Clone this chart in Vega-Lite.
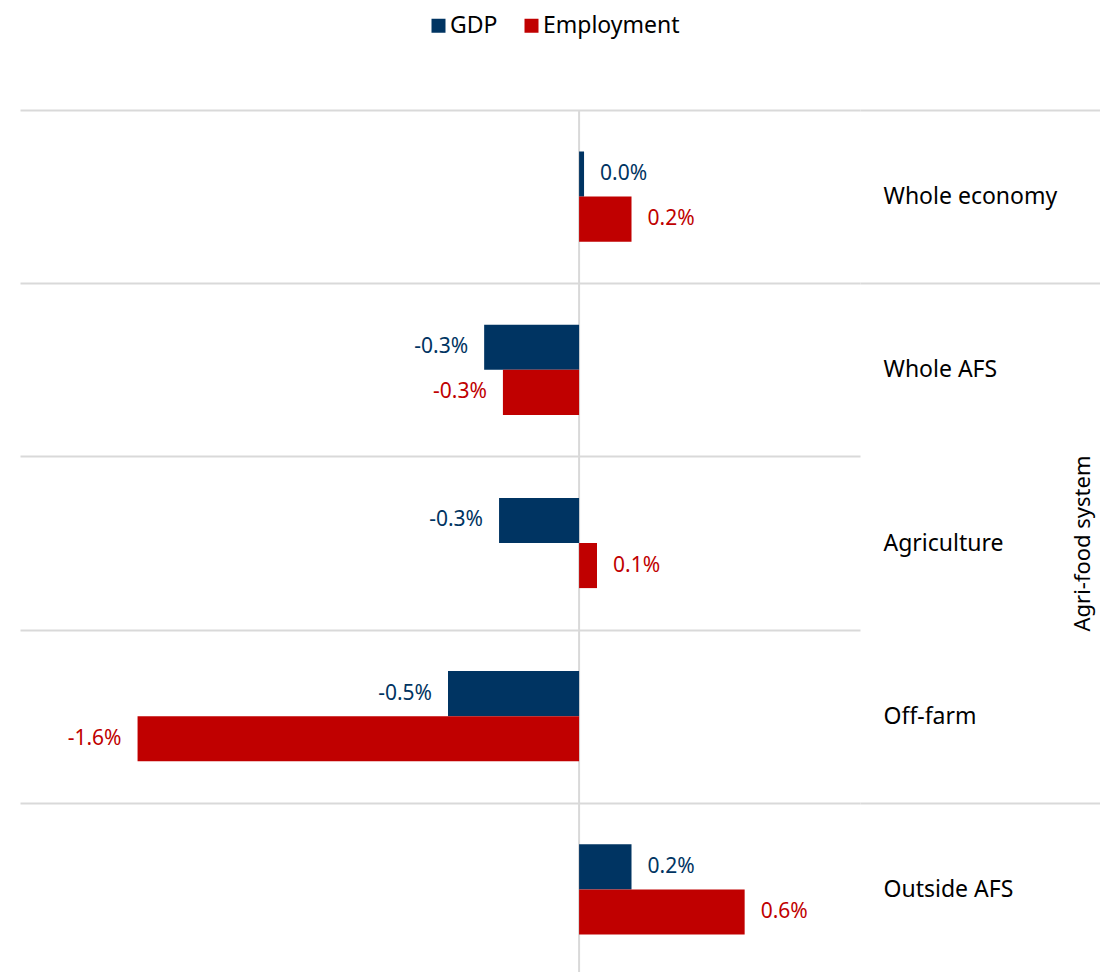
{
  "$schema": "https://vega.github.io/schema/vega-lite/v6.json",
  "width": 840,
  "height": 866,
  "autosize": {"type": "none"},
  "padding": {"left": 20, "top": 110, "right": 240, "bottom": 0},
  "background": "white",
  "config": {
    "view": {"stroke": null},
    "font": "Noto Sans",
    "locale": {"number": {"decimal": ".", "thousands": ",", "grouping": [3], "currency": ["$", ""], "minus": "-"}}
  },
  "data": {
    "values": [
      {"category": "Whole economy", "series": "GDP", "value": 0.00018},
      {"category": "Whole economy", "series": "Employment", "value": 0.0019},
      {"category": "Whole AFS", "series": "GDP", "value": -0.00344},
      {"category": "Whole AFS", "series": "Employment", "value": -0.00276},
      {"category": "Agriculture", "series": "GDP", "value": -0.0029},
      {"category": "Agriculture", "series": "Employment", "value": 0.00065},
      {"category": "Off-farm", "series": "GDP", "value": -0.00475},
      {"category": "Off-farm", "series": "Employment", "value": -0.016},
      {"category": "Outside AFS", "series": "GDP", "value": 0.0019},
      {"category": "Outside AFS", "series": "Employment", "value": 0.006}
    ]
  },
  "encoding": {
    "y": {
      "field": "category",
      "type": "nominal",
      "sort": ["Whole economy", "Whole AFS", "Agriculture", "Off-farm", "Outside AFS"],
      "scale": {"paddingInner": 0, "paddingOuter": 0},
      "axis": {
        "orient": "right",
        "title": "Agri-food system",
        "titleAngle": 270,
        "titleX": 222,
        "titleY": 433,
        "titleAlign": "center",
        "titleBaseline": "middle",
        "titleFontSize": 22,
        "titleFontWeight": "normal",
        "titleColor": "#000000",
        "domain": false,
        "tickBand": "extent",
        "ticks": true,
        "tickSize": 240,
        "tickWidth": 2,
        "tickColor": "#d9d9d9",
        "tickOpacity": {"expr": "datum.value == 'Whole AFS' || datum.value == 'Agriculture' ? 0 : 1"},
        "grid": true,
        "gridColor": "#d9d9d9",
        "gridWidth": 2,
        "labelPadding": -217,
        "labelFontSize": 23,
        "labelColor": "#000000",
        "labelAlign": "left",
        "labelBaseline": "middle"
      }
    }
  },
  "layer": [
    {
      "mark": {"type": "rule", "color": "#d9d9d9", "strokeWidth": 2},
      "data": {"values": [{"zero": 0}]},
      "encoding": {
        "x": {"field": "zero", "type": "quantitative", "scale": {"domain": [-0.02026, 0.01018], "nice": false, "zero": false}, "axis": null},
        "y": null
      }
    },
    {
      "mark": {"type": "bar"},
      "encoding": {
        "x": {"field": "value", "type": "quantitative", "scale": {"domain": [-0.02026, 0.01018], "nice": false, "zero": false}, "axis": null},
        "yOffset": {"field": "series", "type": "nominal", "sort": ["GDP", "Employment"], "scale": {"paddingInner": 0, "paddingOuter": 0.92}},
        "color": {
          "field": "series",
          "type": "nominal",
          "sort": ["GDP", "Employment"],
          "scale": {"domain": ["GDP", "Employment"], "range": ["#003462", "#C00000"]},
          "legend": {
            "title": null,
            "orient": "none",
            "direction": "horizontal",
            "legendX": 407,
            "legendY": -96,
            "symbolType": "square",
            "symbolSize": 196,
            "symbolStrokeWidth": 0,
            "symbolOpacity": 1,
            "labelFontSize": 23,
            "labelColor": "#000000",
            "labelOffset": 0,
            "columnPadding": 22,
            "padding": 0
          }
        }
      }
    },
    {
      "transform": [{"filter": "datum.value >= 0"}],
      "mark": {"type": "text", "align": "left", "baseline": "middle", "dx": 16, "fontSize": 21},
      "encoding": {
        "x": {"field": "value", "type": "quantitative", "scale": {"domain": [-0.02026, 0.01018], "nice": false, "zero": false}, "axis": null},
        "yOffset": {"field": "series", "type": "nominal", "sort": ["GDP", "Employment"], "scale": {"paddingInner": 0, "paddingOuter": 0.92}},
        "text": {"field": "value", "type": "quantitative", "format": ".1%"},
        "color": {"field": "series", "type": "nominal", "sort": ["GDP", "Employment"], "scale": {"domain": ["GDP", "Employment"], "range": ["#003462", "#C00000"]}, "legend": null}
      }
    },
    {
      "transform": [{"filter": "datum.value < 0"}],
      "mark": {"type": "text", "align": "right", "baseline": "middle", "dx": -16, "fontSize": 21},
      "encoding": {
        "x": {"field": "value", "type": "quantitative", "scale": {"domain": [-0.02026, 0.01018], "nice": false, "zero": false}, "axis": null},
        "yOffset": {"field": "series", "type": "nominal", "sort": ["GDP", "Employment"], "scale": {"paddingInner": 0, "paddingOuter": 0.92}},
        "text": {"field": "value", "type": "quantitative", "format": ".1%"},
        "color": {"field": "series", "type": "nominal", "sort": ["GDP", "Employment"], "scale": {"domain": ["GDP", "Employment"], "range": ["#003462", "#C00000"]}, "legend": null}
      }
    }
  ]
}
